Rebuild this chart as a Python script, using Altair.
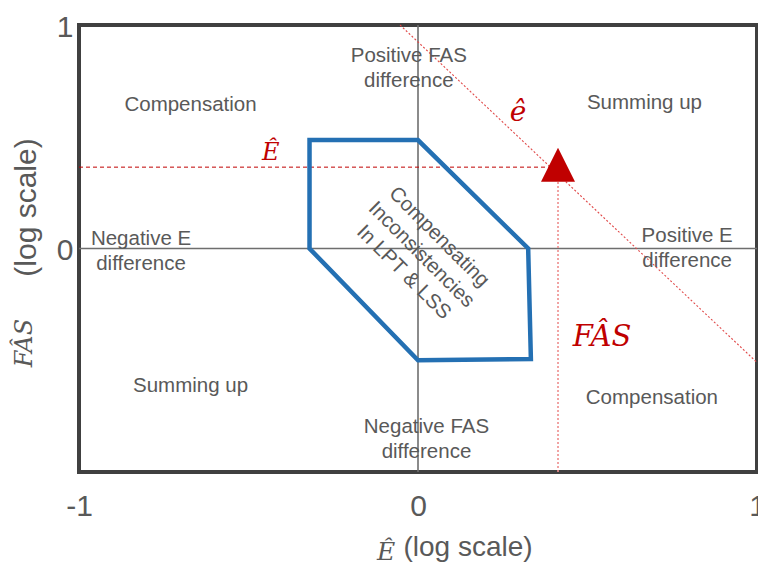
import altair as alt
import pandas as pd

# Quadrant annotations (grey); y is the position of the first line
region_text = ["Compensation", "Positive FAS\ndifference", "Summing up",
               "Negative E\ndifference", "Positive E\ndifference",
               "Summing up", "Negative FAS\ndifference", "Compensation"]
region_x = [-0.671, -0.027, 0.668, -0.817, 0.794, -0.671, 0.025, 0.690]
region_y = [0.644, 0.8635, 0.651, 0.0434, 0.0546, -0.617, -0.799, -0.668]

# Region of compensating inconsistencies (closed outline)
band_x = [-0.32, 0.0, 0.325, 0.333, 0.0, -0.32, -0.32]
band_y = [0.485, 0.485, 0.0, -0.495, -0.5, 0.0, 0.485]
band_label = "Compensating\nInconsistencies\nIn LPT & LSS"
band_label_x = 0.062
band_label_y = 0.051

# Estimated point (Ê, FÂS)
est_x = 0.413
est_y = 0.364

# Iso-error line ê
iso_x = [-0.053, 1.0]
iso_y = [1.0, -0.51]

# Axis ticks
x_ticks = [-1, 0, 1]
y_ticks = [0, 1]

GREY = "#595959"
RED = "#C00000"
SANS = "Liberation Sans"
SERIF = "DejaVu Serif"

xs = alt.Scale(domain=[-1, 1], nice=False, zero=False)
ys = alt.Scale(domain=[-1, 1], nice=False, zero=False)

x_axis = alt.Axis(values=x_ticks, grid=False, ticks=False, domain=False,
                  labelFontSize=30, labelColor=GREY, labelFont=SANS,
                  labelPadding=19, labelFlush=False,
                  labelExpr="'' + datum.value",
                  title="(log scale)", titleFont=SANS, titleFontSize=28,
                  titleFontWeight="normal", titleColor=GREY,
                  titleX=388.5, titleY=75.6, titleAlign="center",
                  titleBaseline="middle")
y_axis = alt.Axis(values=y_ticks, grid=False, ticks=False, domain=False,
                  labelFontSize=30, labelColor=GREY, labelFont=SANS,
                  labelPadding=6, labelFlush=False, labelOffset=2,
                  labelExpr="'' + datum.value",
                  title="(log scale)", titleFont=SANS, titleFontSize=30,
                  titleFontWeight="normal", titleColor=GREY,
                  titleX=-53, titleY=182, titleAngle=270,
                  titleAlign="center", titleBaseline="middle")

# Zero lines through the centre
zero_df = pd.DataFrame({"x": [0.0], "y": [0.0], "lo": [-1.0], "hi": [1.0]})
vline = alt.Chart(zero_df).mark_rule(color="#6e6e6e", strokeWidth=1.6).encode(
    x=alt.X("x:Q", scale=xs, axis=x_axis),
    y=alt.Y("lo:Q", scale=ys, axis=y_axis),
    y2="hi:Q",
)
hline = alt.Chart(zero_df).mark_rule(color="#6e6e6e", strokeWidth=1.6).encode(
    y=alt.Y("y:Q", scale=ys),
    x=alt.X("lo:Q", scale=xs),
    x2="hi:Q",
)

# Outline of the compensating region
band_df = pd.DataFrame({"x": band_x, "y": band_y, "i": list(range(len(band_x)))})
band = alt.Chart(band_df).mark_line(color="#2470B3", strokeWidth=4.5,
                                    strokeCap="square", strokeJoin="miter").encode(
    x=alt.X("x:Q", scale=xs), y=alt.Y("y:Q", scale=ys), order="i:Q")

# Iso-error line
iso_df = pd.DataFrame({"x": iso_x, "y": iso_y})
iso = alt.Chart(iso_df).mark_line(color="#E04848", strokeWidth=1.1,
                                  strokeDash=[2, 2]).encode(
    x=alt.X("x:Q", scale=xs), y=alt.Y("y:Q", scale=ys))

# Guides from the estimate to the axes
est_df = pd.DataFrame({"x": [est_x], "y": [est_y], "lo": [-1.0]})
h_guide = alt.Chart(est_df).mark_rule(color=RED, strokeWidth=1,
                                      strokeDash=[4, 3]).encode(
    y=alt.Y("y:Q", scale=ys), x=alt.X("lo:Q", scale=xs), x2="x:Q")
v_guide = alt.Chart(est_df).mark_rule(color="#EE8E8E", strokeWidth=1.6,
                                      strokeDash=[2, 2]).encode(
    x=alt.X("x:Q", scale=xs), y=alt.Y("lo:Q", scale=ys), y2="y:Q")
marker = alt.Chart(est_df).mark_point(
    shape="M-1,0.86L1,0.86L0,-1.14Z", filled=True, fill=RED, color=RED,
    opacity=1, size=1156, strokeWidth=0).encode(
    x=alt.X("x:Q", scale=xs), y=alt.Y("y:Q", scale=ys))

# Quadrant labels
reg_df = pd.DataFrame({"t": region_text, "x": region_x, "y": region_y})
regions = alt.Chart(reg_df).mark_text(font=SANS, fontSize=20.5, color=GREY,
                                      lineBreak="\n", lineHeight=25,
                                      align="center", baseline="middle").encode(
    x=alt.X("x:Q", scale=xs), y=alt.Y("y:Q", scale=ys), text="t:N")

band_df2 = pd.DataFrame({"t": [band_label], "x": [band_label_x], "y": [band_label_y]})
band_text = alt.Chart(band_df2).mark_text(font=SANS, fontSize=20.5, color=GREY,
                                          lineBreak="\n", lineHeight=25, angle=45,
                                          align="center", baseline="middle").encode(
    x=alt.X("x:Q", scale=xs), y=alt.Y("y:Q", scale=ys), text="t:N")


def math_label(txt, x, y, size, color, angle=0):
    df = pd.DataFrame({"t": [txt], "x": [x], "y": [y]})
    return alt.Chart(df).mark_text(font=SERIF, fontStyle="italic", fontSize=size,
                                   color=color, angle=angle, align="center",
                                   baseline="middle").encode(
        x=alt.X("x:Q", scale=xs), y=alt.Y("y:Q", scale=ys), text="t:N")


lbl_E = math_label("Ê", -0.434, 0.428, 24, RED)
lbl_e = math_label("ê", 0.295, 0.605, 28, RED)
lbl_F = math_label("FÂS", 0.543, -0.396, 29, RED)
ax_E = math_label("Ê", -0.094, -1.36, 25, GREY)
ax_F = math_label("FÂS", -1.159, -0.423, 24, GREY, angle=270)

chart = alt.layer(
    vline, hline, iso, h_guide, v_guide, band, marker,
    regions, band_text, lbl_E, lbl_e, lbl_F, ax_E, ax_F,
).properties(
    width=678, height=447,
    autosize=alt.AutoSizeParams(type="none"),
    padding={"left": 79, "top": 25, "right": 1, "bottom": 97},
    background="white",
).configure_view(stroke="#404040", strokeWidth=4)

chart.save("out.html", embed_options={"renderer": "svg", "actions": False})
